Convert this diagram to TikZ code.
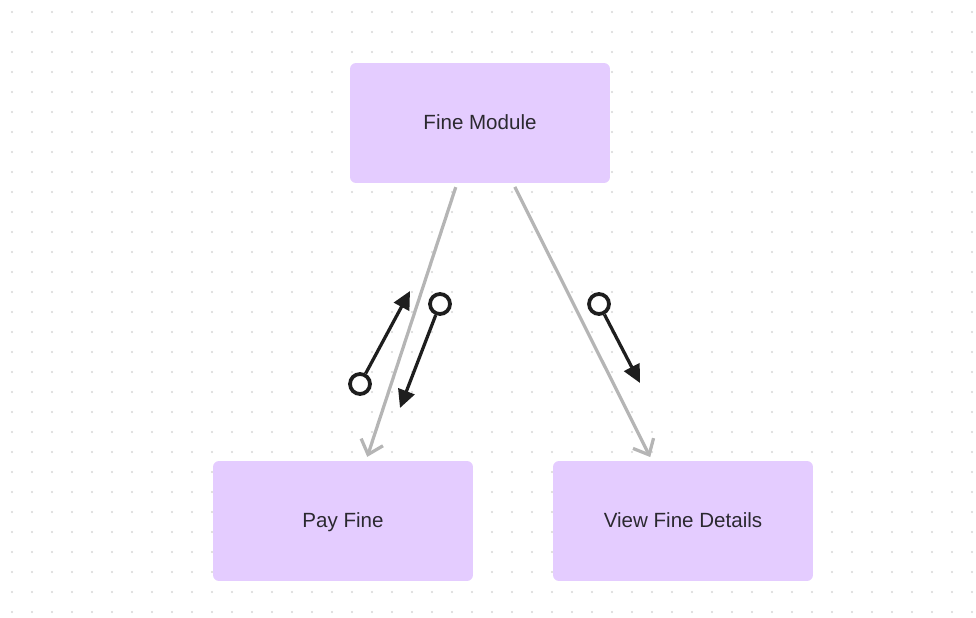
\documentclass[tikz,border=0pt]{standalone}
\usepackage{fontspec}
\setmainfont{Liberation Sans}
\usepackage{tkz-euclide}
\usetikzlibrary{calc}
\usetikzlibrary{positioning}
\usetikzlibrary{arrows.meta}

\definecolor{boxfill}{HTML}{E4CCFF}
\definecolor{boxtext}{HTML}{2B2930}
\definecolor{linkgray}{HTML}{B5B5B5}
\definecolor{dotgray}{HTML}{D6D6D6}
\definecolor{flowblack}{HTML}{1E1E1E}

\tikzset{
  module/.style = {fill=boxfill, rounded corners=0.12cm, minimum width=5.2cm,
    minimum height=2.4cm, inner sep=0pt, text=boxtext,
    text height=0.72em, text depth=0pt,
    font=\fontsize{11.7}{14}\selectfont},
  link/.style = {draw=linkgray, line width=0.065cm,
    -{Straight Barb[length=0.26cm, width=0.46cm]}, shorten <=0.08cm, shorten >=0.08cm},
  ring/.style = {circle, draw=flowblack, line width=0.075cm, minimum size=0.4cm,
    inner sep=0pt},
  flow/.style = {draw=flowblack, line width=0.065cm,
    -{Triangle[length=0.36cm, width=0.34cm]}}
}

\begin{document}
\begin{tikzpicture}[x=0.02cm, y=-0.02cm]
      \useasboundingbox (0,0) rectangle (976,618);
      \foreach \x in {12,32,...,972}
        \foreach \y in {12,32,...,612}
          \fill[dotgray] (\x,\y) circle (0.022cm);

      \node[module] (mod) at (480,123) {Fine Module};
      \node[module] (pay) at (343,521) {Pay Fine};
      \node[module] (view) at (683,521) {View Fine Details};

      \draw[link] ([xshift=-0.46cm]mod.south) -- ([xshift=0.46cm]pay.north);
      \draw[link] ([xshift=0.66cm]mod.south) -- ([xshift=-0.62cm]view.north);

      \tkzDefPoints{410/291/t1, 400/408/t2, 640/383/t3}
      \node[ring] (r1) at (360,384) {};
      \node[ring] (r2) at (440,304) {};
      \node[ring] (r3) at (599,304) {};

      \draw[flow] (r1) -- (t1);
      \draw[flow] (r2) -- (t2);
      \draw[flow] (r3) -- (t3);
\end{tikzpicture}
\end{document}
